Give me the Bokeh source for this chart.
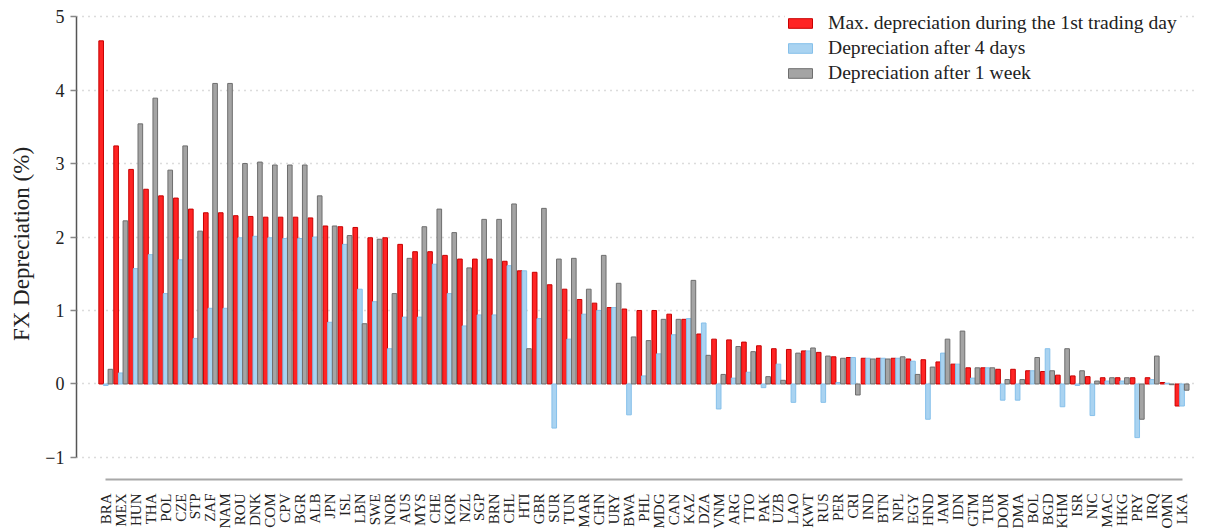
from math import pi
from bokeh.plotting import figure
from bokeh.models import ColumnDataSource, Range1d, FixedTicker, Legend, LegendItem
from bokeh.transform import dodge
from bokeh.embed import file_html
from bokeh.resources import INLINE

countries = ["BRA","MEX","HUN","THA","POL","CZE","STP","ZAF","NAM","ROU","DNK","COM","CPV","BGR","ALB",
             "JPN","ISL","LBN","SWE","NOR","AUS","MYS","CHE","KOR","NZL","SGP","BRN","CHL","HTI","GBR",
             "SUR","TUN","MAR","CHN","URY","BWA","PHL","MDG","CAN","KAZ","DZA","VNM","ARG","TTO","PAK",
             "UZB","LAO","KWT","RUS","PER","CRI","IND","BTN","NPL","EGY","HND","JAM","IDN","GTM","TUR",
             "DOM","DMA","BOL","BGD","KHM","ISR","NIC","MAC","HKG","PRY","IRQ","OMN","LKA"]

max_day1 = [4.67,3.24,2.92,2.65,2.56,2.53,2.38,2.33,2.33,2.29,2.28,2.27,2.27,2.27,2.26,
            2.15,2.14,2.13,1.99,1.99,1.90,1.80,1.80,1.75,1.70,1.70,1.70,1.67,1.54,1.52,
            1.35,1.29,1.15,1.10,1.04,1.02,1.00,1.00,0.95,0.88,0.68,0.61,0.60,0.57,0.52,
            0.48,0.47,0.45,0.43,0.37,0.36,0.35,0.35,0.35,0.34,0.33,0.30,0.27,0.22,0.22,
            0.20,0.20,0.18,0.17,0.12,0.11,0.10,0.085,0.085,0.085,0.085,0.02,-0.30]

after_4d = [-0.02,0.15,1.57,1.76,1.23,1.69,0.62,1.03,1.03,1.99,2.01,1.99,1.98,1.98,2.00,
            0.84,1.90,1.29,1.12,0.48,0.91,0.91,1.63,1.23,0.79,0.94,0.94,1.61,1.54,0.89,
            -0.60,0.61,0.95,1.00,1.04,-0.42,0.11,0.41,0.67,0.89,0.83,-0.34,0.08,0.16,-0.05,
            0.27,-0.25,0.45,-0.25,0.02,0.36,0.35,0.35,0.35,0.31,-0.48,0.42,0.27,0.08,0.22,
            -0.22,-0.22,0.18,0.48,-0.31,-0.02,-0.43,0.04,0.04,-0.73,0.06,0.01,-0.30]

after_1w = [0.20,2.22,3.54,3.89,2.91,3.24,2.08,4.09,4.09,3.00,3.02,2.98,2.98,2.98,2.56,
            2.15,2.02,0.82,1.97,1.23,1.71,2.14,2.38,2.06,1.58,2.24,2.24,2.45,0.48,2.39,
            1.70,1.71,1.29,1.75,1.37,0.64,0.59,0.88,0.88,1.41,0.39,0.13,0.51,0.44,0.10,
            0.05,0.42,0.49,0.38,0.35,-0.15,0.34,0.34,0.37,0.13,0.23,0.61,0.72,0.22,0.22,
            0.06,0.06,0.36,0.18,0.48,0.18,0.04,0.085,0.085,-0.48,0.38,-0.01,-0.085]

series_labels = ["Max. depreciation during the 1st trading day",
                 "Depreciation after 4 days",
                 "Depreciation after 1 week"]
y_ticks = [-1, 0, 1, 2, 3, 4, 5]

FONT = "Liberation Serif"

xs = list(range(len(countries)))
src = ColumnDataSource(dict(x=xs, red=max_day1, blue=after_4d, gray=after_1w))

p = figure(frame_width=1122, frame_height=471, output_backend="svg", toolbar_location=None,
           x_range=Range1d(-1.96, 73.1), y_range=Range1d(-1.3, 5.11),
           min_border_left=76, min_border_right=0, min_border_top=8, min_border_bottom=10)
p.outline_line_color = None
p.background_fill_color = "white"

bw = 0.31
r1 = p.vbar(x=dodge("x", -bw, range=p.x_range), top="red", bottom=0, width=bw, source=src,
            fill_color="#FF2424", line_color="#C80000", line_width=1)
r2 = p.vbar(x=dodge("x", 0.0, range=p.x_range), top="blue", bottom=0, width=bw, source=src,
            fill_color="#A9D3F1", line_color="#86C0EA", line_width=1)
r3 = p.vbar(x=dodge("x", bw, range=p.x_range), top="gray", bottom=0, width=bw, source=src,
            fill_color="#A4A4A4", line_color="#6E6E6E", line_width=1)

# axes
p.xaxis.ticker = FixedTicker(ticks=xs)
p.xaxis.major_label_overrides = {i: c for i, c in enumerate(countries)}
p.xaxis.major_label_orientation = pi / 2
p.xaxis.bounds = (0, len(countries) - 1)
p.xaxis.axis_line_color = "#A8A8A8"
p.xaxis.axis_line_width = 2
p.xaxis.major_tick_line_color = None
p.xaxis.minor_tick_line_color = None
p.xaxis.major_label_text_font = FONT
p.xaxis.major_label_text_font_size = "15px"
p.xaxis.major_label_text_color = "#222222"
p.xaxis.major_label_standoff = 8

p.yaxis.ticker = FixedTicker(ticks=y_ticks)
p.yaxis.bounds = (-1, 5)
p.yaxis.axis_line_color = "#555555"
p.yaxis.axis_line_width = 1.5
p.yaxis.major_tick_line_color = "#888888"
p.yaxis.major_tick_line_width = 1.5
p.yaxis.major_tick_out = 6
p.yaxis.major_tick_in = 0
p.yaxis.minor_tick_line_color = None
p.yaxis.major_label_text_font = FONT
p.yaxis.major_label_text_font_size = "18px"
p.yaxis.major_label_text_color = "#222222"
p.yaxis.major_label_standoff = 6
p.yaxis.axis_label = "FX Depreciation (%)"
p.yaxis.axis_label_text_font = FONT
p.yaxis.axis_label_text_font_size = "23px"
p.yaxis.axis_label_text_font_style = "normal"
p.yaxis.axis_label_text_color = "#222222"
p.yaxis.axis_label_standoff = 8

p.xgrid.grid_line_color = None
p.ygrid.ticker = FixedTicker(ticks=y_ticks)
p.ygrid.grid_line_color = "#B8B8B8"
p.ygrid.grid_line_dash = "1 5"
p.ygrid.grid_line_width = 1.5

legend = Legend(items=[LegendItem(label=series_labels[0], renderers=[r1]),
                       LegendItem(label=series_labels[1], renderers=[r2]),
                       LegendItem(label=series_labels[2], renderers=[r3])],
                location=(709, 395))
legend.border_line_color = None
legend.background_fill_color = "white"
legend.background_fill_alpha = 1
legend.label_text_font = FONT
legend.label_text_font_size = "19.6px"
legend.label_text_color = "#222222"
legend.glyph_width = 30
legend.glyph_height = 12
legend.label_standoff = 13
legend.spacing = 3
legend.padding = 3
legend.margin = 0
legend.label_height = 21
p.add_layout(legend)

open("out.html", "w").write(file_html(p, INLINE))
